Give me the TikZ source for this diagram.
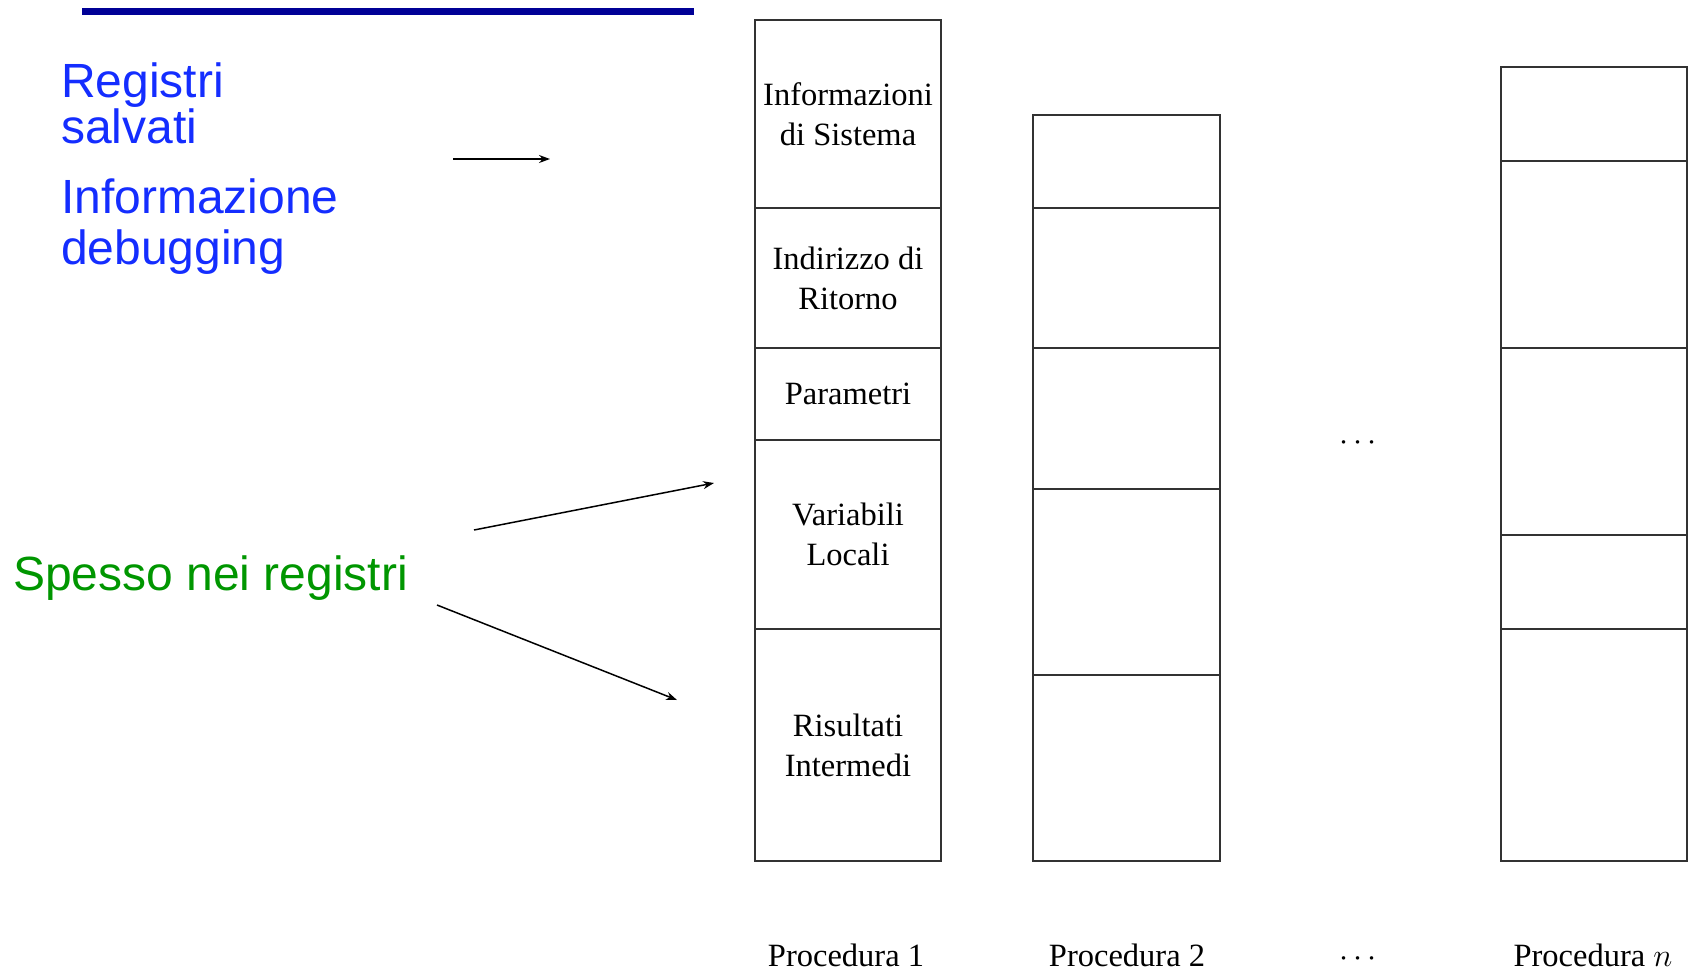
\RequirePackage{fix-cm}
\documentclass[tikz,border=0pt]{standalone}
\usepackage{fontspec}
\setmainfont{Liberation Serif}
\newfontfamily\arialfont{Liberation Sans}
\usetikzlibrary{arrows.meta}
\definecolor{barblue}{RGB}{0,0,150}
\definecolor{txtblue}{RGB}{20,45,255}
\definecolor{txtgreen}{RGB}{0,150,0}
\definecolor{cellline}{RGB}{50,50,50}
\tikzset{
  cell/.style={draw=cellline, line width=1.3pt, inner sep=0pt, minimum width=186pt, align=center,
    font=\fontsize{32.5}{40}\selectfont},
  bluetext/.style={text=txtblue, inner sep=0pt, align=left, anchor=base west},
  greentext/.style={text=txtgreen, inner sep=0pt, anchor=base west, font=\arialfont\fontsize{48}{50}\selectfont},
  proclabel/.style={inner sep=0pt, anchor=base, font=\fontsize{32.5}{40}\selectfont},
  arr/.style={line width=1.5pt, -{Stealth[length=11pt,width=8pt]}}
}
\begin{document}
\begin{tikzpicture}[x=1pt,y=-1pt]
\useasboundingbox (0,0) rectangle (1688,970);
% top bar
\fill[barblue] (82,7.5) rectangle (694,14.5);
% left texts (base anchor = last line baseline)
\node[bluetext, font=\arialfont\fontsize{48}{43}\selectfont] (regs) at (61,143) {Registri\\salvati};
\node[bluetext, font=\arialfont\fontsize{48}{51}\selectfont] (dbg) at (61,264) {Informazione\\debugging};
\node[greentext] (spesso) at (13,590) {Spesso nei registri};
% procedure 1
\node[cell, minimum height=188pt] (p1a) at (848,114) {Informazioni\\di Sistema};
\node[cell, minimum height=140pt] (p1b) at (848,278) {Indirizzo di\\Ritorno};
\node[cell, minimum height=92pt] (p1c) at (848,394) {Parametri};
\node[cell, minimum height=189pt] (p1d) at (848,534.5) {Variabili\\Locali};
\node[cell, minimum height=232pt] (p1e) at (848,745) {Risultati\\Intermedi};
% procedure 2
\node[cell, minimum width=187pt, minimum height=93pt] (p2a) at (1126.5,161.5) {};
\node[cell, minimum width=187pt, minimum height=140pt] (p2b) at (1126.5,278) {};
\node[cell, minimum width=187pt, minimum height=141pt] (p2c) at (1126.5,418.5) {};
\node[cell, minimum width=187pt, minimum height=186pt] (p2d) at (1126.5,582) {};
\node[cell, minimum width=187pt, minimum height=186pt] (p2e) at (1126.5,768) {};
% procedure n
\node[cell, minimum height=94pt] (pna) at (1594,114) {};
\node[cell, minimum height=187pt] (pnb) at (1594,254.5) {};
\node[cell, minimum height=187pt] (pnc) at (1594,441.5) {};
\node[cell, minimum height=94pt] (pnd) at (1594,582) {};
\node[cell, minimum height=232pt] (pne) at (1594,745) {};
% dots
\node[proclabel, anchor=center] (dotsmid) at (1358,443) {$\cdots$};
% labels
\node[proclabel] (l1) at (846,966) {Procedura 1};
\node[proclabel] (l2) at (1127,966) {Procedura 2};
\node[proclabel] (ldots) at (1358,966) {$\cdots$};
\node[proclabel] (ln) at (1593,966) {Procedura $n$};
% arrows
\coordinate (a1s) at (453,159);
\coordinate (a1e) at (550,159);
\coordinate (a2s) at (474,530);
\coordinate (a2e) at (714,483);
\coordinate (a3s) at (437,605);
\coordinate (a3e) at (677,700);
\draw[arr] (a1s) -- (a1e);
\draw[arr] (a2s) -- (a2e);
\draw[arr] (a3s) -- (a3e);
\end{tikzpicture}
\end{document}
